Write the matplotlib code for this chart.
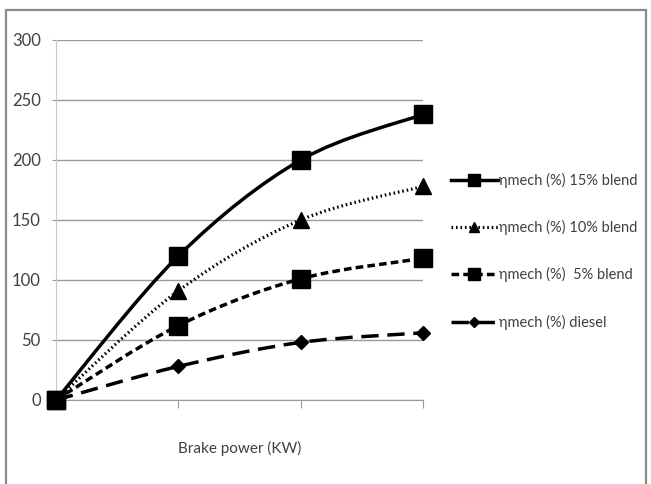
import numpy as np
import matplotlib
matplotlib.use("Agg")
import matplotlib.pyplot as plt
from matplotlib.path import Path
from matplotlib.patches import PathPatch, Rectangle
from matplotlib.lines import Line2D

plt.rcParams['font.family'] = ['Lato', 'DejaVu Sans']

# data
power_idx = [0, 1, 2, 3]
blend15 = [0, 120, 200, 238]
blend10 = [0, 91, 150, 178]
blend5 = [0, 62, 101, 118]
diesel = [0, 28, 48, 56]
labels = ['ηmech (%) 15% blend', 'ηmech (%) 10% blend',
          'ηmech (%)  5% blend', 'ηmech (%) diesel']
yticks = [0, 50, 100, 150, 200, 250, 300]


def smooth_path(x, y):
    # excel-like smoothed line: cubic bezier through the points
    x = np.asarray(x, float)
    y = np.asarray(y, float)
    verts = [(x[0], y[0])]
    codes = [Path.MOVETO]
    n = len(x)
    for i in range(n - 1):
        x0, y0 = (x[i - 1], y[i - 1]) if i > 0 else (x[i], y[i])
        x3, y3 = (x[i + 2], y[i + 2]) if i + 2 < n else (x[i + 1], y[i + 1])
        c1 = (x[i] + (x[i + 1] - x0) / 6, y[i] + (y[i + 1] - y0) / 6)
        c2 = (x[i + 1] - (x3 - x[i]) / 6, y[i + 1] - (y3 - y[i]) / 6)
        verts += [c1, c2, (x[i + 1], y[i + 1])]
        codes += [Path.CURVE4] * 3
    return Path(verts, codes)


fig = plt.figure(figsize=(6.51, 4.84), dpi=100)
fig.patches.append(Rectangle((6 / 651, -0.01), (640 / 651), (474 / 484) + 0.01,
                             transform=fig.transFigure, fill=False,
                             edgecolor='#8a8a8a', lw=1.6))

ax = fig.add_axes([56 / 651, 84 / 484, 367 / 651, 360 / 484])

series = [blend15, blend10, blend5, diesel]
styles = [dict(ls='-', marker='s', ms=13, lw=2.5),
          dict(ls=(0, (0.5, 0.9)), marker='^', ms=11, lw=2.3),
          dict(ls=(0, (2.2, 1.2)), marker='s', ms=13, lw=2.5),
          dict(ls=(0, (5, 2.5)), marker='D', ms=7, lw=2.5)]

handles = []
for vals, st, lab in zip(series, styles, labels):
    patch = PathPatch(smooth_path(power_idx, vals), fill=False, edgecolor='black',
                      lw=st['lw'], linestyle=st['ls'], capstyle='butt', zorder=3)
    ax.add_patch(patch)
    ax.plot(power_idx, vals, ls='none', marker=st['marker'], ms=st['ms'],
            color='black', clip_on=False, zorder=4)
    handles.append(Line2D([], [], color='black', ls=st['ls'], lw=st['lw'],
                          marker=st['marker'], ms=st['ms'] * 0.7, label=lab))

ax.set_xlim(0, 3)
ax.set_ylim(0, 300)
ax.set_yticks(yticks)
ax.set_xticks(power_idx)
ax.set_xticklabels([])
ax.grid(axis='y', color='#9a9a9a', lw=1)
ax.set_axisbelow(True)
for s in ['top', 'right']:
    ax.spines[s].set_visible(False)
ax.spines['left'].set_color('#c8c8c8')
ax.spines['bottom'].set_color('#9a9a9a')
ax.tick_params(axis='y', length=3, colors='#9a9a9a', labelcolor='#404040',
               labelsize=12, pad=8)
ax.tick_params(axis='x', length=6, colors='#9a9a9a')
ax.set_xlabel('Brake power (KW)', fontsize=11, color='#404040', labelpad=20)

fig.legend(handles=handles, loc='upper left', bbox_to_anchor=(438 / 651, 1 - 160 / 484),
           frameon=False, fontsize=10.5, handlelength=3.2, handletextpad=0.1,
           labelspacing=2.2, labelcolor='#404040')

fig.savefig('out.png', dpi=100)
